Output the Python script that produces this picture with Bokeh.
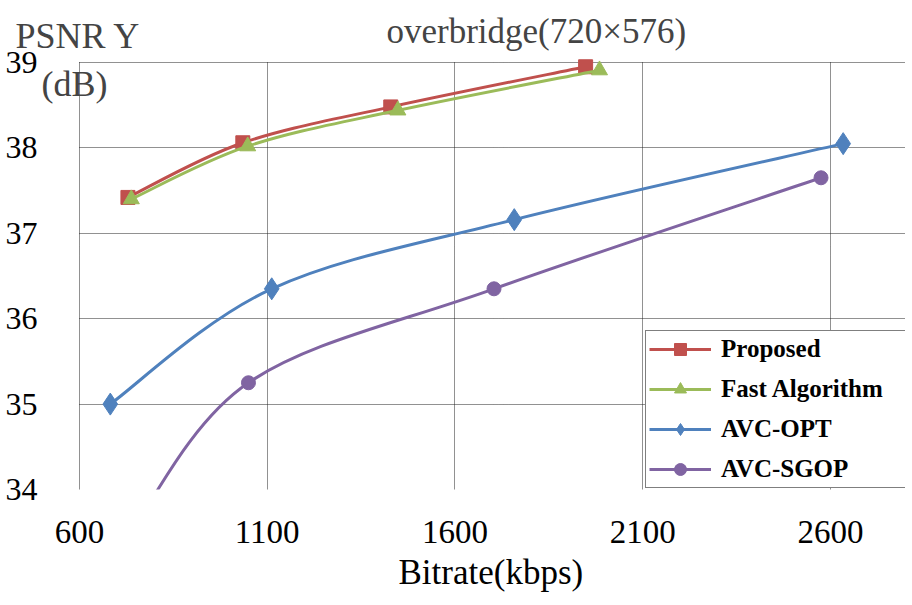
import numpy as np
from bokeh.plotting import figure
from bokeh.models import FixedTicker, Label, Legend, LegendItem, Range1d, Title
from bokeh.embed import file_html
from bokeh.resources import INLINE

# ---------------- data ----------------
x_ticks = [600, 1100, 1600, 2100, 2600]
y_ticks = [34, 35, 36, 37, 38, 39]

proposed_rate = [729, 1035, 1429, 1948]
proposed_psnr = [37.42, 38.06, 38.48, 38.95]

fast_rate = [738, 1048, 1448, 1985]
fast_psnr = [37.40, 38.02, 38.44, 38.91]

opt_rate = [682, 1112, 1758, 2634]
opt_psnr = [35.00, 36.35, 37.16, 38.05]

sgop_rate = [730, 1050, 1704, 2575]
sgop_psnr = [33.45, 35.25, 36.35, 37.65]

series_names = ["Proposed", "Fast Algorithm", "AVC-OPT", "AVC-SGOP"]

FONT = "Liberation Serif"

# visible chart area (data space) and the extra room kept inside the frame
X_MIN, X_MAX = 600, 2800
Y_MIN, Y_MAX = 34, 39
W, H = 912, 605
BOTTOM = 116
RIGHT = 7
LEFT_ROOM = 79            # px left of 600 kbps kept inside the frame
TOP_ROOM = 62             # px above 39 dB kept inside the frame
PX_PER_X = (W - RIGHT - LEFT_ROOM) / (X_MAX - X_MIN)
PX_PER_Y = (H - BOTTOM - TOP_ROOM) / (Y_MAX - Y_MIN)


def smooth_controls(xs, ys):
    """Bezier control points for an Excel-like smoothed line through the points."""
    xs = np.asarray(xs, dtype=float)
    ys = np.asarray(ys, dtype=float)
    xp = np.r_[xs[0], xs[:-2]]
    yp = np.r_[ys[0], ys[:-2]]
    xn = np.r_[xs[2:], xs[-1]]
    yn = np.r_[ys[2:], ys[-1]]
    return dict(
        x0=xs[:-1], y0=ys[:-1], x1=xs[1:], y1=ys[1:],
        cx0=xs[:-1] + (xs[1:] - xp) / 6.0, cy0=ys[:-1] + (ys[1:] - yp) / 6.0,
        cx1=xs[1:] - (xn - xs[:-1]) / 6.0, cy1=ys[1:] - (yn - ys[:-1]) / 6.0,
    )


p = figure(
    width=W, height=H,
    x_range=Range1d(X_MIN - LEFT_ROOM / PX_PER_X, X_MAX),
    y_range=Range1d(Y_MIN, Y_MAX + TOP_ROOM / PX_PER_Y),
    output_backend="svg", toolbar_location=None,
    min_border_left=0, min_border_right=RIGHT, min_border_top=0,
    min_border_bottom=BOTTOM,
)
p.outline_line_color = None
p.background_fill_color = "white"
p.border_fill_color = "white"

# axes
p.xaxis.ticker = FixedTicker(ticks=x_ticks)
p.yaxis.ticker = FixedTicker(ticks=y_ticks)
for ax in (p.xaxis[0], p.yaxis[0]):
    ax.axis_line_color = None
    ax.major_tick_line_color = None
    ax.minor_tick_line_color = None
    ax.major_tick_out = 0
    ax.major_tick_in = 0
    ax.minor_tick_out = 0
    ax.minor_tick_in = 0
    ax.major_label_text_font = FONT
    ax.major_label_text_color = "black"
p.xaxis.major_label_text_font_size = "33px"
p.yaxis.major_label_text_font_size = "32px"
p.xaxis.major_label_standoff = 31
p.yaxis.major_label_standoff = -37

# x axis title, centred on the visible chart area
p.add_layout(Title(text="Bitrate(kbps)", align="left", offset=398,
                   text_font=FONT, text_font_size="35px",
                   text_font_style="normal", text_color="black", standoff=10),
             "below")

for g in (p.xgrid[0], p.ygrid[0]):
    g.grid_line_color = "#222222"
    g.grid_line_dash = "1 1"
    g.grid_line_width = 1
p.xgrid.cross_bounds = (Y_MIN, Y_MAX)
p.ygrid.cross_bounds = (X_MIN, X_MAX)

series = [
    (proposed_rate, proposed_psnr, "#C0504D", "square", 14),
    (fast_rate, fast_psnr, "#9BBB59", "triangle", 16),
    (opt_rate, opt_psnr, "#4F81BD", "diamond", 22),
    (sgop_rate, sgop_psnr, "#8064A2", "circle", 14),
]

items = []
for name, (xs, ys, color, marker, size) in zip(series_names, series):
    cp = smooth_controls(xs, ys)
    r_line = p.bezier(line_color=color, line_width=3, **cp)
    r_mark = p.scatter(xs, ys, marker=marker, size=size,
                       fill_color=color, line_color=color)
    items.append(LegendItem(label=name, renderers=[r_line, r_mark]))

legend = Legend(
    items=items,
    location=(645, 1), margin=0,
    padding=3, spacing=10, glyph_width=62, glyph_height=30, label_standoff=10,
    label_width=190,
    label_text_font=FONT, label_text_font_size="25px", label_text_font_style="bold",
    label_text_color="black",
    border_line_color="black", border_line_width=1,
    background_fill_color="white", background_fill_alpha=1.0,
)
p.add_layout(legend, "center")

# texts
p.add_layout(Label(x=386, y=31, x_units="canvas", y_units="canvas",
                   text="overbridge(720×576)", text_font=FONT,
                   text_font_size="35px", text_baseline="alphabetic"))
p.add_layout(Label(x=15, y=35, x_units="canvas", y_units="canvas",
                   text="PSNR Y", text_font=FONT,
                   text_font_size="36px", text_baseline="alphabetic"))
p.add_layout(Label(x=41, y=83, x_units="canvas", y_units="canvas",
                   text="(dB)", text_font=FONT,
                   text_font_size="36px", text_baseline="alphabetic"))

open("out.html", "w").write(file_html(p, INLINE))
